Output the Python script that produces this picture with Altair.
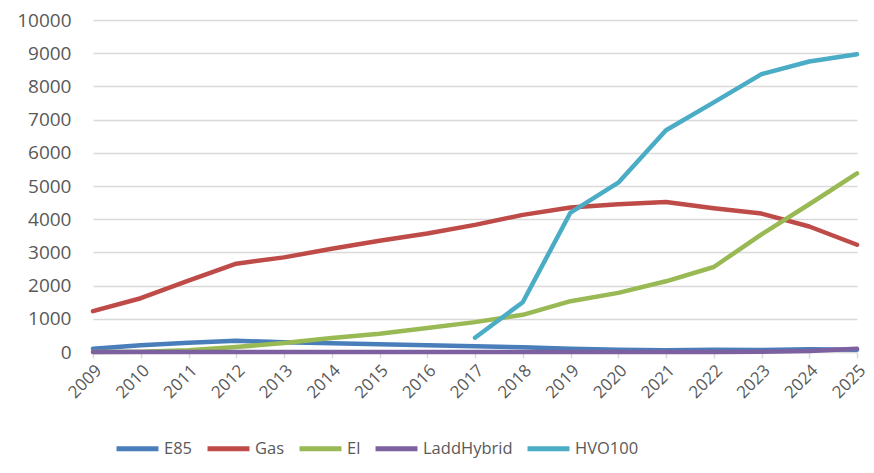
import altair as alt
import pandas as pd

years = list(range(2009, 2026))
e85 = [100, 200, 280, 340, 290, 260, 230, 200, 170, 140, 100, 70, 50, 70, 60, 80, 70]
gas = [1230, 1620, 2150, 2660, 2850, 3110, 3350, 3570, 3830, 4130, 4350, 4450, 4520, 4330, 4170, 3780, 3230]
el = [0, 10, 50, 150, 270, 420, 550, 720, 900, 1120, 1530, 1780, 2130, 2560, 3540, 4450, 5380]
ladd = [0, 0, 0, 0, 0, 0, 0, 0, 0, 0, 0, 0, 0, 0, 10, 30, 100]
hvo_years = list(range(2017, 2026))
hvo = [430, 1500, 4200, 5100, 6680, 7520, 8370, 8750, 8970]

series_names = ["E85", "Gas", "El", "LaddHybrid", "HVO100"]
colors = ["#4a7ebb", "#be4b48", "#98b954", "#7d60a0", "#4bacc6"]

rows = []
for name, vals in [("E85", e85), ("Gas", gas), ("El", el), ("LaddHybrid", ladd)]:
    for y, v in zip(years, vals):
        rows.append({"year": y, "series": name, "value": v})
for y, v in zip(hvo_years, hvo):
    rows.append({"year": y, "series": "HVO100", "value": v})
df = pd.DataFrame(rows)
df["order"] = df["series"].map({n: i for i, n in enumerate(series_names)})

font = "Open Sans"

chart = alt.Chart(df).mark_line(strokeWidth=4.5, strokeCap="round", strokeJoin="round").encode(
    x=alt.X("year:O", scale=alt.Scale(type="point", padding=0),
            axis=alt.Axis(title=None, labelAngle=-45, labelFontSize=17, labelColor="#595959",
                          labelFont=font, domain=False, ticks=True, tickColor="#d9d9d9",
                          tickSize=6, tickWidth=1.5, grid=False, labelPadding=4)),
    y=alt.Y("value:Q", scale=alt.Scale(domain=[0, 10000], nice=False),
            axis=alt.Axis(title=None, values=list(range(0, 10001, 1000)), format="d",
                          labelFontSize=19, labelColor="#595959", labelFont=font,
                          domain=False, ticks=False,
                          gridColor="#d9d9d9", gridWidth=1.5, labelPadding=22)),
    color=alt.Color("series:N", sort=series_names,
                    scale=alt.Scale(domain=series_names, range=colors),
                    legend=alt.Legend(title=None, orient="none", direction="horizontal",
                                      legendX=21, legendY=405, symbolType="stroke",
                                      symbolSize=1760, symbolStrokeWidth=5,
                                      labelFontSize=16.5, labelColor="#595959", labelFont=font,
                                      columnPadding=4, labelOffset=3)),
    detail="series:N",
    order=alt.Order("order:Q"),
).properties(
    width=764, height=332,
    autosize=alt.AutoSizeParams(type="none"),
    padding={"left": 85, "top": 12, "right": 9, "bottom": 109},
).configure_view(stroke=None)

chart.save("out.html", embed_options={"renderer": "svg", "actions": False})
